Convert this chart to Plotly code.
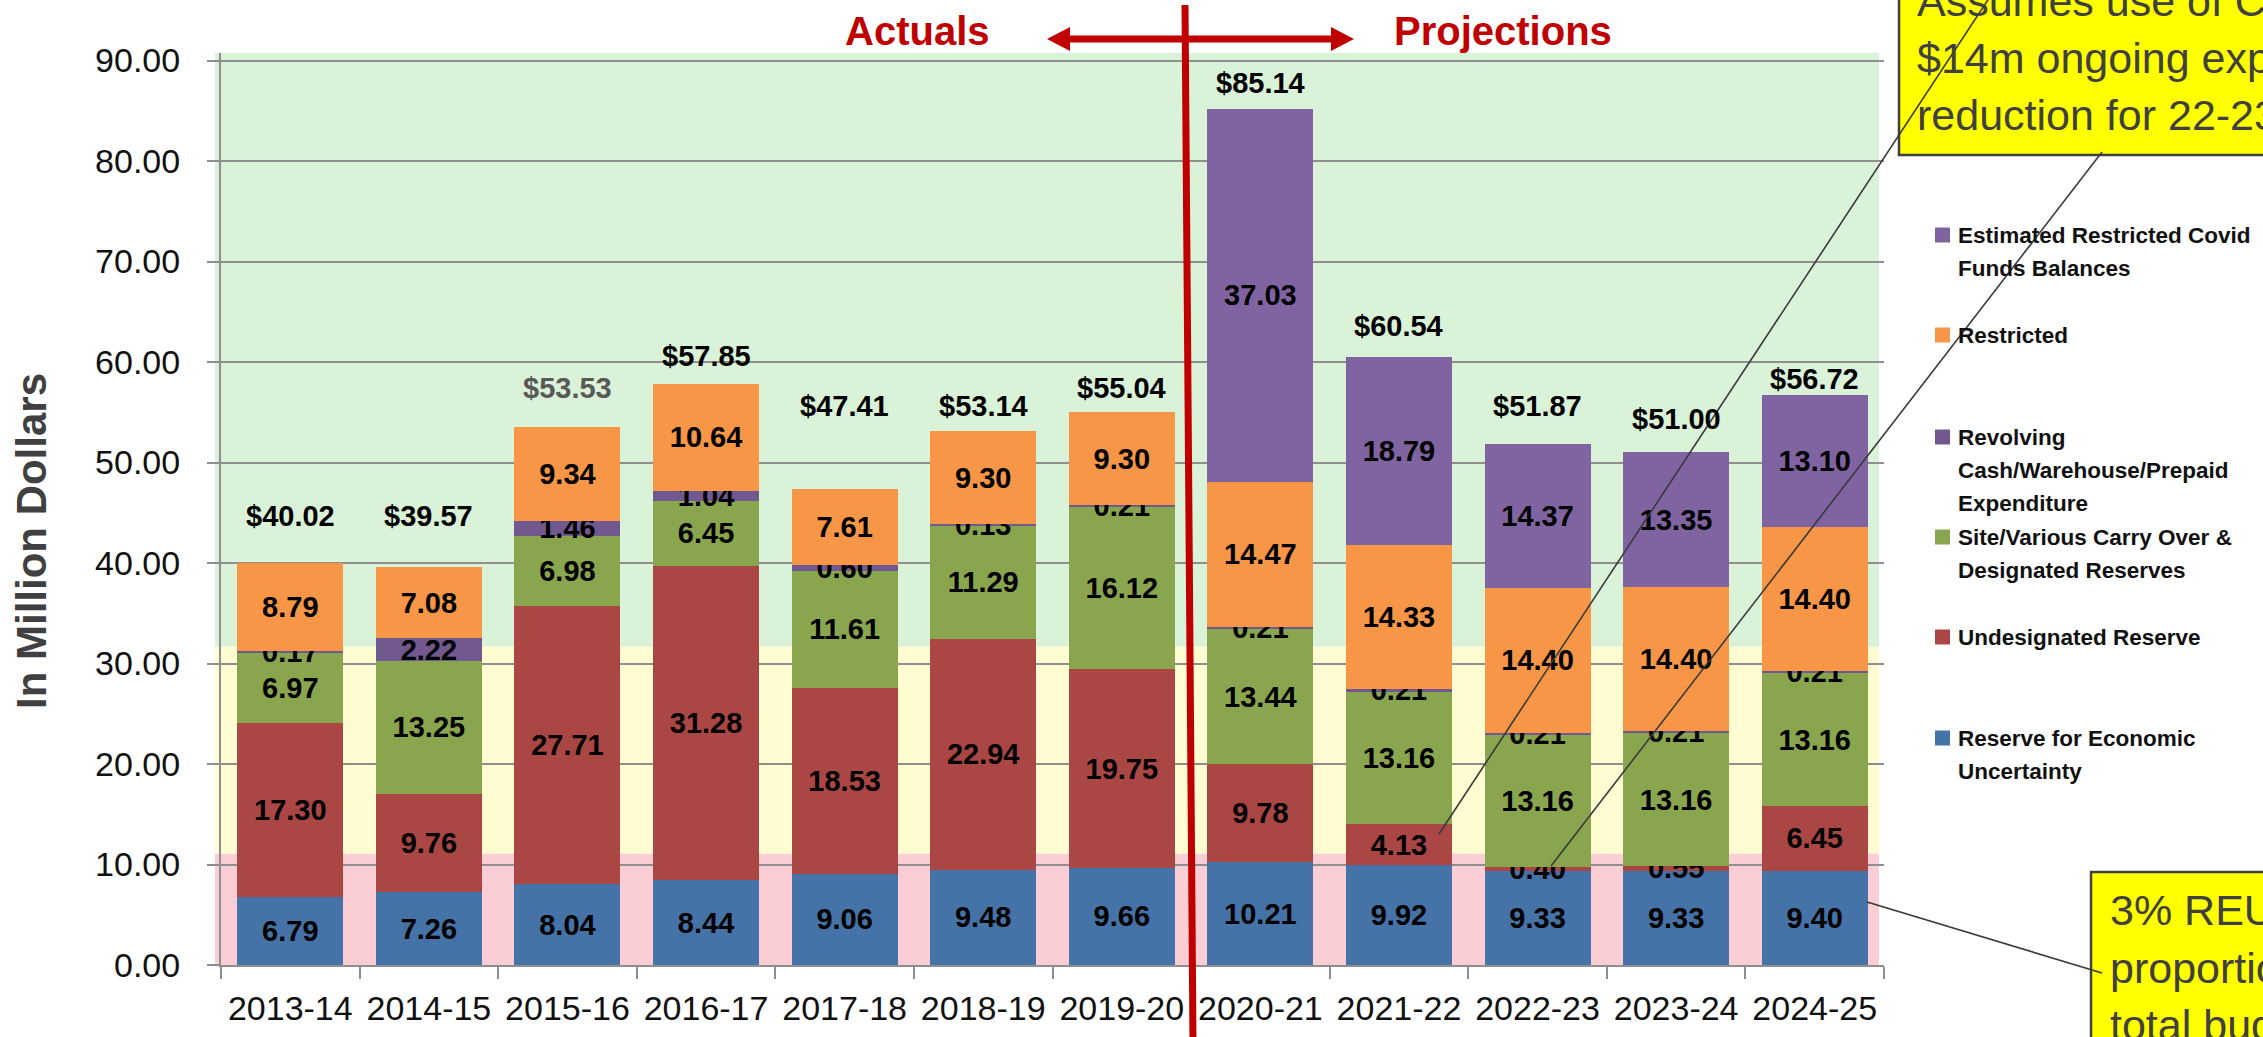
import plotly.graph_objects as go

# ---------------- data ----------------
years = ["2013-14", "2014-15", "2015-16", "2016-17", "2017-18", "2018-19",
         "2019-20", "2020-21", "2021-22", "2022-23", "2023-24", "2024-25"]
reserve_econ = [6.79, 7.26, 8.04, 8.44, 9.06, 9.48, 9.66, 10.21, 9.92, 9.33, 9.33, 9.40]
undesignated = [17.30, 9.76, 27.71, 31.28, 18.53, 22.94, 19.75, 9.78, 4.13, 0.40, 0.55, 6.45]
site_carry = [6.97, 13.25, 6.98, 6.45, 11.61, 11.29, 16.12, 13.44, 13.16, 13.16, 13.16, 13.16]
revolving = [0.17, 2.22, 1.46, 1.04, 0.60, 0.13, 0.21, 0.21, 0.21, 0.21, 0.21, 0.21]
restricted = [8.79, 7.08, 9.34, 10.64, 7.61, 9.30, 9.30, 14.47, 14.33, 14.40, 14.40, 14.40]
covid = [None, None, None, None, None, None, None, 37.03, 18.79, 14.37, 13.35, 13.10]
totals = [40.02, 39.57, 53.53, 57.85, 47.41, 53.14, 55.04, 85.14, 60.54, 51.87, 51.00, 56.72]
total_label_y = [44.7, 44.7, 57.4, 60.6, 55.6, 55.6, 57.4, 87.8, 63.6, 55.6, 54.3, 58.3]

series_names = ["Reserve for Economic Uncertainty", "Undesignated Reserve",
                "Site/Various Carry Over & Designated Reserves",
                "Revolving Cash/Warehouse/Prepaid Expenditure", "Restricted",
                "Estimated Restricted Covid Funds Balances"]
series_values = [reserve_econ, undesignated, site_carry, revolving, restricted, covid]
series_colors = ["#4572A7", "#AA4643", "#89A54E", "#71588F", "#F79646", "#8064A2"]

legend_lines = [
    ["Estimated Restricted Covid", "Funds Balances"],
    ["Restricted"],
    ["Revolving", "Cash/Warehouse/Prepaid", "Expenditure"],
    ["Site/Various Carry Over &", "Designated Reserves"],
    ["Undesignated Reserve"],
    ["Reserve for Economic", "Uncertainty"],
]
legend_colors = ["#8064A2", "#F79646", "#71588F", "#89A54E", "#AA4643", "#4572A7"]

band_edges = [0, 11.1, 31.7, 90.75]
band_colors = ["#FBCDD4", "#FEFCD0", "#D9F2D8"]

# ---------------- layout geometry ----------------
W, H = 2263, 1037
L, R, T, B = 221, 1884, 53, 965
def px(x):
    return (x - L) / (R - L)
def py(y):
    return (B - y) / (B - T)

FONT = "Liberation Sans, Arial, sans-serif"

fig = go.Figure()
for name, vals, col in zip(series_names, series_values, series_colors):
    fig.add_trace(go.Bar(
        x=years, y=vals, name=name, marker=dict(color=col, line=dict(width=0)),
        texttemplate="%{y:.2f}", textposition="inside", insidetextanchor="middle",
        textangle=0, constraintext="none",
        insidetextfont=dict(family=FONT, size=29, color="black", weight="bold"),
        showlegend=False, hoverinfo="x+y+name"))

shapes = []
# background bands
for i, c in enumerate(band_colors):
    shapes.append(dict(type="rect", xref="paper", yref="y", x0=px(215), x1=px(1879),
                       y0=band_edges[i], y1=band_edges[i + 1], fillcolor=c,
                       line=dict(width=0), layer="below"))

# red divider line
RED = "#C00000"
shapes.append(dict(type="line", xref="paper", yref="paper", x0=px(1185), y0=py(5),
                   x1=px(1193), y1=py(1045), line=dict(color=RED, width=7), layer="above"))
# double arrow
ay = 39
shapes.append(dict(type="line", xref="paper", yref="paper", x0=px(1066), y0=py(ay),
                   x1=px(1335), y1=py(ay), line=dict(color=RED, width=7), layer="above"))
def tri(tip, base):
    return (f"M {px(tip)},{py(ay)} L {px(base)},{py(ay - 12)} "
            f"L {px(base)},{py(ay + 12)} Z")
shapes.append(dict(type="path", xref="paper", yref="paper", path=tri(1047, 1070),
                   fillcolor=RED, line=dict(width=0), layer="above"))
shapes.append(dict(type="path", xref="paper", yref="paper", path=tri(1354, 1331),
                   fillcolor=RED, line=dict(width=0), layer="above"))

# callout boxes
BOX_LINE = "#404040"
shapes.append(dict(type="rect", xref="paper", yref="paper", x0=px(1899), y0=py(155),
                   x1=px(2320), y1=py(-60), fillcolor="#FFFF00",
                   line=dict(color=BOX_LINE, width=2.5), layer="above"))
shapes.append(dict(type="rect", xref="paper", yref="paper", x0=px(2091), y0=py(1100),
                   x1=px(2320), y1=py(872), fillcolor="#FFFF00",
                   line=dict(color=BOX_LINE, width=2.5), layer="above"))

# legend markers
legend_y = [235, 335, 437, 537, 637, 738]
for yy, c in zip(legend_y, legend_colors):
    shapes.append(dict(type="rect", xref="paper", yref="paper", x0=px(1935), x1=px(1950),
                       y0=py(yy + 7.5), y1=py(yy - 7.5), fillcolor=c, line=dict(width=0)))

annotations = []

def add_text_line(text, x_left, baseline, size=43, color="#404040", bold=False):
    annotations.append(dict(xref="paper", yref="paper", x=px(x_left), y=py(baseline - 0.35 * size),
                            xanchor="left", yanchor="middle", showarrow=False, text=text,
                            font=dict(family=FONT, size=size, color=color,
                                      weight="bold" if bold else "normal")))

for t, bl in zip(["Assumes use of Covid funds and", "$14m ongoing expenditure",
                  "reduction for 22-23"], [16, 73, 130]):
    add_text_line(t, 1915, bl)
for t, bl in zip(["3% REU is a", "proportion of", "total budget"], [925, 983, 1040]):
    add_text_line(t, 2108, bl)

# callout lines
for (x0, y0, x1, y1) in [(2001, -20, 1439, 834), (2102, 152, 1551, 866), (1867, 902, 2102, 973)]:
    shapes.append(dict(type="line", xref="paper", yref="paper", x0=px(x0), y0=py(y0),
                       x1=px(x1), y1=py(y1), line=dict(color="#3a3a3a", width=1.6),
                       layer="above"))

# legend text
for yy, lines in zip(legend_y, legend_lines):
    for k, ln in enumerate(lines):
        annotations.append(dict(xref="paper", yref="paper", x=px(1956), y=py(yy + 33 * k),
                                xanchor="left", yanchor="middle", showarrow=False, text=ln,
                                font=dict(family=FONT, size=22.5, color="#111111", weight="bold")))

# totals
for i, (yr, tot, ly) in enumerate(zip(years, totals, total_label_y)):
    annotations.append(dict(x=yr, y=ly, xref="x", yref="y", showarrow=False,
                            text=f"${tot:.2f}", yanchor="middle",
                            font=dict(family=FONT, size=29,
                                      color="#595959" if i == 2 else "black", weight="bold")))

# headings
for t, cx in [("Actuals", 917), ("Projections", 1503)]:
    annotations.append(dict(xref="paper", yref="paper", x=px(cx), y=py(31), showarrow=False,
                            text=t, xanchor="center", yanchor="middle",
                            font=dict(family=FONT, size=40, color=RED, weight="bold")))

# y title
annotations.append(dict(xref="paper", yref="paper", x=px(31), y=py(541), showarrow=False,
                        text="In Million Dollars", textangle=-90, xanchor="center",
                        yanchor="middle",
                        font=dict(family=FONT, size=42, color="#404040", weight="bold")))

AX = "#8F8F8F"
fig.update_layout(
    width=W, height=H, barmode="stack", bargap=0.235,
    margin=dict(l=L, r=W - R, t=T, b=H - B, autoexpand=False),
    paper_bgcolor="white", plot_bgcolor="rgba(0,0,0,0)",
    showlegend=False, shapes=shapes, annotations=annotations,
    xaxis=dict(type="category", range=[-0.5, 11.5], showgrid=False, showline=True,
               linecolor=AX, linewidth=2, ticks="outside", tickson="boundaries",
               ticklen=12, tickwidth=2, tickcolor=AX, ticklabelstandoff=12,
               tickfont=dict(family=FONT, size=34, color="#111111")),
    yaxis=dict(range=[0, 90.75], tick0=0, dtick=10, tickformat=".2f", showgrid=True,
               gridcolor=AX, gridwidth=2, zeroline=False, showline=True, linecolor=AX,
               linewidth=2, ticks="outside", ticklen=12, tickwidth=2, tickcolor=AX,
               ticklabelstandoff=20,
               tickfont=dict(family=FONT, size=34, color="#111111")),
)

fig.write_html(
    "out.html",
    config={"displayModeBar": False},
    post_script="document.body.style.margin='0';document.body.style.padding='0';"
                "document.body.style.overflow='hidden';",
)
